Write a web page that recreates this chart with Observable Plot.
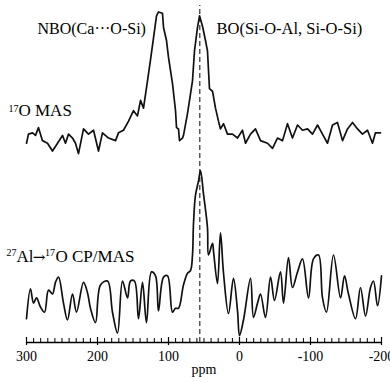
<!DOCTYPE html>
<html>
<head>
<meta charset="utf-8">
<script src="https://cdn.jsdelivr.net/npm/d3@7"></script>
<script src="https://cdn.jsdelivr.net/npm/@observablehq/plot@0.6"></script>
<style>
  html, body { margin: 0; padding: 0; background: #fff; }
  svg { display: block; }
</style>
</head>
<body>
<div id="chart"></div>
<script>
// 17O MAS spectrum (chemical shift in ppm, relative intensity)
const topPpm = [300,297.2,291.5,287.3,283.1,277.5,270.4,263.4,256.3,249.3,245.1,240.8,235.2,231.0,226.8,219.7,212.7,205.6,198.6,193.0,184.5,174.6,170.4,163.4,156.3,149.3,143.7,139.4,135.2,129.6,125.4,121.1,116.9,114.1,108.5,107.0,102.8,100.0,94.4,90.1,88.7,85.9,84.5,80.3,78.9,73.2,70.4,66.2,63.4,59.2,56.3,52.1,47.9,45.1,42.3,38.0,33.8,29.6,26.8,22.5,16.9,9.9,2.8,-4.2,-8.5,-15.5,-22.5,-29.6,-39.4,-46.5,-53.5,-60.6,-67.6,-74.6,-81.7,-88.7,-95.8,-102.8,-109.9,-116.9,-123.9,-131.0,-138.0,-145.1,-152.1,-159.2,-166.2,-173.2,-180.3,-187.3,-191.5,-198.6];
const topIntensity = [-0.02,0.05,0.06,0.04,0.10,0,-0.02,-0.08,-0.02,0.04,-0.02,0.05,0.02,-0.02,-0.10,0.09,0.05,0.08,-0.08,0.06,0.02,0,0.06,0.08,0.15,0.23,0.19,0.31,0.25,0.46,0.62,0.79,0.96,0.99,0.98,0.87,0.77,0.64,0.44,0.23,0.10,0.09,0,0.02,0.04,0.21,0.31,0.46,0.69,0.87,0.96,0.88,0.77,0.69,0.40,0.38,0.25,0.15,0.09,0.13,0.05,0.05,0.02,0.08,-0.02,0.05,0.09,0,-0.02,-0.06,0.02,0,0.13,0.02,0.12,0.08,0.09,0.05,0.12,0.05,-0.02,0.12,0.14,0,0.09,0.14,0.09,0.05,0.08,-0.02,0.06,0.06];

// 27Al -> 17O CP/MAS spectrum
const bottomPpm = [300.0,294.4,290.1,285.9,280.3,274.6,269.0,263.4,259.2,254.9,247.9,242.3,235.2,229.6,219.7,214.1,209.9,202.8,195.8,185.9,178.9,171.8,164.8,157.7,153.5,147.9,142.3,136.6,131.0,124.0,118.3,114.1,107.0,101.4,94.4,90.1,85.9,78.9,73.2,69.0,66.2,64.8,62.0,57.7,54.9,50.7,45.1,43.7,38.0,36.6,31.0,26.8,22.5,15.5,8.5,2.8,0.0,-5.6,-15.5,-19.7,-25.4,-29.6,-36.6,-43.7,-49.3,-57.7,-62.0,-69.0,-74.6,-81.7,-88.7,-97.2,-104.2,-111.3,-116.9,-122.5,-132.4,-142.3,-147.9,-153.5,-163.4,-170.4,-177.5,-184.5,-188.7,-194.4,-200.0];
const bottomIntensity = [-0.14,0.09,-0.02,0.02,-0.05,-0.09,0.08,0.05,0.14,0.18,-0.02,-0.15,0.05,-0.09,0.14,0.06,-0.06,-0.17,0.12,0.15,-0.09,-0.25,0.15,0.02,0.15,0.15,-0.14,0.14,-0.17,0.22,0.19,-0.08,0.18,0.19,-0.09,-0.06,-0.06,0.12,0.21,0.23,0.35,0.59,0.81,0.92,1.00,0.82,0.56,0.35,0.44,0.38,0.13,0.52,0.21,-0.10,0.17,-0.08,-0.27,-0.15,0.17,-0.13,-0.02,0.05,-0.13,0.18,0,0.22,-0.02,0.33,0.10,0.22,0.32,0.02,0.32,0.35,0.02,-0.09,0.35,0.02,0.19,0.05,-0.14,0.10,-0.12,0.10,0.15,-0.04,0.19];

const xTicks = [300, 200, 100, 0, -100, -200];
const minorTicks = d3.range(-200, 301, 10);
const referenceShift = 56; // dashed line position (ppm)
const topOffset = 1.23;    // vertical stacking offset of the 17O MAS trace

const peakLabels = ["NBO(Ca···O-Si)", "BO(Si-O-Al, Si-O-Si)"];
const axisLabel = "ppm";

const topData = topPpm.map((p, i) => ({ppm: p, v: topIntensity[i] + topOffset}));
const bottomData = bottomPpm.map((p, i) => ({ppm: p, v: bottomIntensity[i]}));

const yMin = -0.323, yMax = 2.308;
const px = 1 / 130; // one pixel in intensity units

const font = "Liberation Serif, Times New Roman, serif";

const chart = Plot.plot({
  width: 390,
  height: 382,
  marginLeft: 26,
  marginRight: 9,
  marginTop: 0,
  marginBottom: 40,
  x: {domain: [300, -200]},
  y: {domain: [yMin, yMax], axis: null},
  style: {fontFamily: font, background: "#fff", color: "#000"},
  marks: [
    // baseline axis
    Plot.ruleY([yMin], {stroke: "#000", strokeWidth: 1.3}),
    // minor ticks (pointing up)
    Plot.ruleX(minorTicks, {x: d => d, y1: () => yMin, y2: () => yMin + 4 * px, stroke: "#000", strokeWidth: 1}),
    // major ticks
    Plot.ruleX(xTicks, {x: d => d, y1: () => yMin - 3 * px, y2: () => yMin + 5 * px, stroke: "#000", strokeWidth: 1.2}),
    Plot.axisX({ticks: xTicks, tickSize: 0, tickPadding: 9, tickFormat: d => String(d), fontSize: 14, label: null}),
    Plot.text([axisLabel], {frameAnchor: "bottom", dy: 31, lineAnchor: "bottom", fontSize: 14, fill: "#000"}),
    // reference dashed line
    Plot.ruleX([referenceShift], {y1: () => yMin, y2: () => yMax - 5 * px, stroke: "#555", strokeWidth: 1.5, strokeDasharray: "5,3"}),
    // spectra
    Plot.line(topData, {x: "ppm", y: "v", stroke: "#111", strokeWidth: 1.7, strokeLinejoin: "round"}),
    Plot.line(bottomData, {x: "ppm", y: "v", stroke: "#111", strokeWidth: 1.7, curve: "catmull-rom", strokeLinejoin: "round"}),
    // peak labels
    Plot.text([peakLabels[0]], {x: () => 284.5, y: () => 2.054, text: d => d, textAnchor: "start", lineAnchor: "bottom", fontSize: 16, fill: "#000"}),
    Plot.text([peakLabels[1]], {x: () => 32.4, y: () => 2.054, text: d => d, textAnchor: "start", lineAnchor: "bottom", fontSize: 16.5, fill: "#000"}),
    // 17O MAS
    Plot.text(["17"], {x: () => 311.3, y: () => 1.454, text: d => d, textAnchor: "end", lineAnchor: "bottom", fontSize: 10, fill: "#000"}),
    Plot.text(["O MAS"], {x: () => 311.3, y: () => 1.423, text: d => d, textAnchor: "start", lineAnchor: "bottom", fontSize: 17, fill: "#000"}),
    // 27Al -> 17O CP/MAS
    Plot.text(["27"], {x: () => 314.1, y: () => 0.346, text: d => d, textAnchor: "end", lineAnchor: "bottom", fontSize: 10, fill: "#000"}),
    Plot.text(["Al"], {x: () => 314.1, y: () => 0.30, text: d => d, textAnchor: "start", lineAnchor: "bottom", fontSize: 17, fill: "#000"}),
    Plot.text(["→"], {x: () => 282.4, y: () => 0.30, text: d => d, textAnchor: "middle", lineAnchor: "bottom", fontSize: 15, fontFamily: "DejaVu Serif", fill: "#000"}),
    Plot.text(["17"], {x: () => 259.2, y: () => 0.346, text: d => d, textAnchor: "end", lineAnchor: "bottom", fontSize: 10, dx: -0.5, fill: "#000"}),
    Plot.text(["O CP/MAS"], {x: () => 259.2, y: () => 0.30, text: d => d, textAnchor: "start", lineAnchor: "bottom", fontSize: 17, fill: "#000"})
  ]
});

document.getElementById("chart").appendChild(chart);
</script>
</body>
</html>
